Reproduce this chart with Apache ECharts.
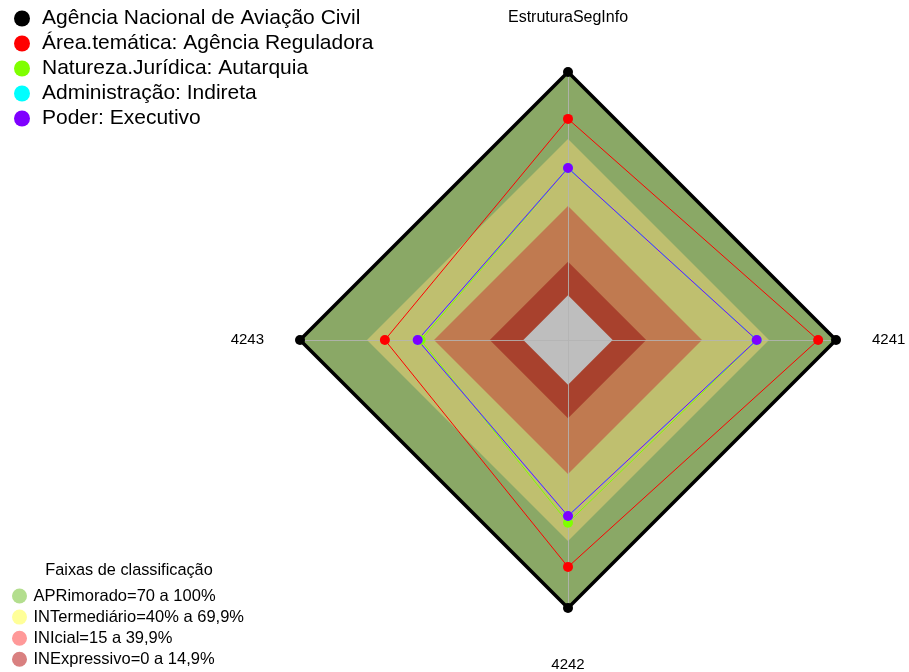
<!DOCTYPE html>
<html>
<head>
<meta charset="utf-8">
<script src="https://cdn.jsdelivr.net/npm/echarts@6/dist/echarts.min.js"></script>
<style>
html,body{margin:0;padding:0;background:#fff;}
#chart{width:909px;height:672px;}
</style>
</head>
<body>
<div id="chart"></div>
<script>
// Axis order as shown clockwise from top in the reference
var categories = ['EstruturaSegInfo', '4241', '4242', '4243'];
var axisMin = -20;
var axisMax = 100;

var seriesNames = [
  'Agência Nacional de Aviação Civil',
  'Área.temática: Agência Reguladora',
  'Natureza.Jurídica: Autarquia',
  'Administração: Indireta',
  'Poder: Executivo'
];
var seriesColors = ['#000000', '#FF0000', '#7FFF00', '#00FFFF', '#7F00FF'];
// values in category order: EstruturaSegInfo, 4241, 4242, 4243
var valAgencia = [100, 100, 100, 100];
var valArea = [79, 92, 81.6, 62];
var valNatureza = [57, 64.5, 61.8, 46];
var valAdmin = [57, 64.5, 58.8, 47.3];
var valPoder = [57, 64.5, 58.8, 47.3];

var bandNames = [
  'APRimorado=70 a 100%',
  'INTermediário=40% a 69,9%',
  'INIcial=15 a 39,9%',
  'INExpressivo=0 a 14,9%'
];
var bandUpper = [100, 70, 40, 15];
var bandFill = ['#8AA866', '#BFBF6F', '#C07A50', '#A8412D'];
var bandLegendColor = ['#B3DE8E', '#FFFF99', '#FF9999', '#D98080'];
var centerValue = 0;
var centerFill = '#BEBEBE';

// ECharts places radar indicators counter-clockwise; reorder so that display is clockwise
var order = [0, 3, 2, 1];
function reorder(arr) { return order.map(function (i) { return arr[i]; }); }

var indicators = reorder(categories).map(function (c) {
  return { name: c, min: axisMin, max: axisMax };
});

var series = [];
bandNames.forEach(function (n, i) {
  var v = categories.map(function () { return bandUpper[i]; });
  series.push({
    type: 'radar', name: n, z: 1, silent: true,
    symbol: 'none',
    itemStyle: { color: bandLegendColor[i] },
    lineStyle: { width: 0, opacity: 0 },
    areaStyle: { color: bandFill[i], opacity: 1 },
    data: [{ value: v, name: n }]
  });
});
series.push({
  type: 'radar', name: 'centro', z: 1, silent: true,
  symbol: 'none',
  itemStyle: { color: centerFill },
  lineStyle: { width: 0, opacity: 0 },
  areaStyle: { color: centerFill, opacity: 1 },
  data: [{ value: categories.map(function () { return centerValue; }), name: 'centro' }]
});

var dataVals = [valAgencia, valArea, valNatureza, valAdmin, valPoder];
seriesNames.forEach(function (n, i) {
  series.push({
    type: 'radar', name: n, z: 4,
    symbol: 'circle',
    symbolSize: 10,
    itemStyle: { color: seriesColors[i] },
    lineStyle: { color: seriesColors[i], width: i === 0 ? 3.5 : 1 },
    data: [{ value: reorder(dataVals[i]), name: n }]
  });
});

var chart = echarts.init(document.getElementById('chart'), null, { renderer: 'canvas' });
chart.setOption({
  animation: false,
  backgroundColor: '#ffffff',
  title: {
    text: 'Faixas de classificação',
    left: 129, top: 563, textAlign: 'center', padding: 0,
    textStyle: { fontFamily: 'Liberation Sans', fontSize: 16.3, fontWeight: 'normal', color: '#000' }
  },
  legend: [{
    data: seriesNames,
    orient: 'vertical', left: 14, top: 8, padding: 0,
    icon: 'circle', itemWidth: 30, itemHeight: 16, itemGap: 4,
    selectedMode: false,
    textStyle: { fontFamily: 'Liberation Sans', fontSize: 21, lineHeight: 20, color: '#000' }
  }, {
    data: bandNames.map(function (n, i) {
      return { name: n, itemStyle: { color: bandLegendColor[i] } };
    }),
    orient: 'vertical', left: 12, top: 587.5, padding: 0, height: 84,
    icon: 'circle', itemWidth: 18, itemHeight: 15, itemGap: 4.1,
    selectedMode: false,
    textStyle: { fontFamily: 'Liberation Sans', fontSize: 16.5, lineHeight: 16, color: '#000' }
  }],
  radar: {
    z: 3,
    center: [568, 340],
    radius: 268,
    startAngle: 90,
    shape: 'polygon',
    splitNumber: 1,
    indicator: indicators,
    nameGap: 36,
    axisName: {
      color: '#000', fontFamily: 'Liberation Sans', fontSize: 15,
      formatter: function (name) {
        if (name === 'EstruturaSegInfo') return '{t|' + name + '}';
        if (name === '4242') return '{b|' + name + '}';
        return name;
      },
      rich: {
        t: { fontFamily: 'Liberation Sans', fontSize: 16, color: '#000', padding: [0, 0, 10, 0] },
        b: { fontFamily: 'Liberation Sans', fontSize: 15, color: '#000', padding: [13, 0, 0, 0] }
      }
    },
    axisLine: { show: true, lineStyle: { color: 'rgba(180,180,180,0.85)', width: 1 } },
    splitLine: { show: false },
    splitArea: { show: false },
    axisTick: { show: false },
    axisLabel: { show: false }
  },
  series: series
});
</script>
</body>
</html>
